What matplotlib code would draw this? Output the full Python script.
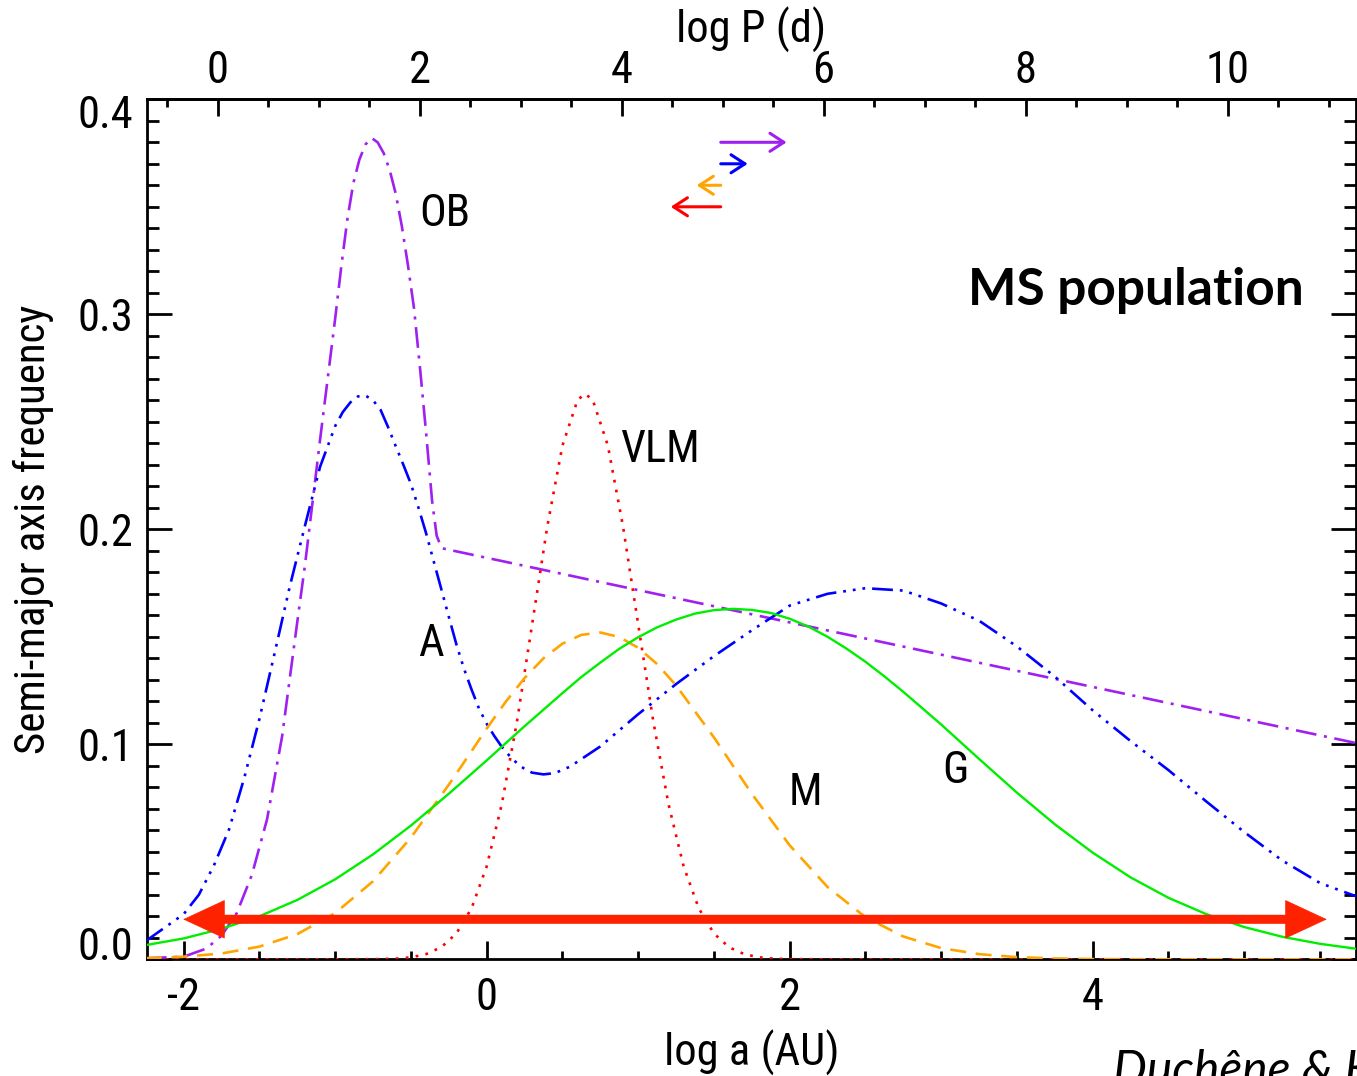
import os
import matplotlib
matplotlib.use("Agg")
import matplotlib.pyplot as plt
from matplotlib import font_manager
from matplotlib.transforms import ScaledTranslation
from matplotlib.ticker import MultipleLocator, FormatStrFormatter


def pick_narrow_font():
    # a narrow sans for the axis text, if one is installed
    wanted = ['liberationsansnarrow-regular', 'robotocondensed-regular',
              'notosans-condensed.', 'dejavusanscondensed.', 'opensans-condensed',
              'opensans_condensed-regular']
    files = {os.path.basename(f.fname).lower(): f for f in font_manager.fontManager.ttflist}
    for w in wanted:
        for name, f in files.items():
            if name.startswith(w):
                return f
    for name, f in files.items():
        if ('narrow' in name or 'condensed' in name) and not any(
                k in name for k in ('bold', 'italic', 'oblique', 'light', 'thin', 'black')):
            return f
    return None


narrow = pick_narrow_font()
if narrow is not None:
    plt.rcParams['font.family'] = [narrow.name, 'DejaVu Sans']
    plt.rcParams['font.stretch'] = narrow.stretch
    BASE = 32
else:
    plt.rcParams['font.family'] = ['Liberation Sans', 'DejaVu Sans']
    BASE = 28
plt.rcParams['font.size'] = BASE
plt.rcParams['axes.unicode_minus'] = False
plt.rcParams['lines.scale_dashes'] = False

# semi-major axis distributions, log a (AU) vs frequency
x_g = [-2.25, -2.0, -1.75, -1.5, -1.25, -1.0, -0.75, -0.5, -0.25, 0.0, 0.25, 0.5, 0.625,
       0.75, 0.875, 1.0, 1.125, 1.25, 1.375, 1.5, 1.625, 1.75, 1.875, 2.0, 2.125, 2.25,
       2.375, 2.5, 2.625, 2.75, 3.0, 3.25, 3.5, 3.75, 4.0, 4.25, 4.5, 4.75, 5.0, 5.25,
       5.5, 5.75]
y_g = [0.0066, 0.0097, 0.0142, 0.0200, 0.0276, 0.0372, 0.0488, 0.0622, 0.0770, 0.0925,
       0.1084, 0.1238, 0.1313, 0.1380, 0.1444, 0.1498, 0.1544, 0.1580, 0.1608, 0.1624,
       0.1630, 0.1625, 0.1611, 0.1584, 0.1547, 0.1500, 0.1445, 0.1384, 0.1316, 0.1244,
       0.1092, 0.0932, 0.0775, 0.0628, 0.0496, 0.0381, 0.0286, 0.0210, 0.0150, 0.0105,
       0.0072, 0.0048]

x_m = [-2.25, -2.0, -1.75, -1.5, -1.25, -1.0, -0.75, -0.5, -0.25, -0.125, 0.0, 0.125,
       0.25, 0.375, 0.5, 0.625, 0.75, 0.875, 1.0, 1.125, 1.25, 1.5, 1.75, 2.0, 2.25, 2.5,
       2.75, 3.0, 3.25, 3.5, 3.75, 4.0, 4.5, 5.0, 5.75]
y_m = [0.0005, 0.0012, 0.0027, 0.0059, 0.0117, 0.0215, 0.0363, 0.0566, 0.0812, 0.0942,
       0.1073, 0.1197, 0.1308, 0.1400, 0.1468, 0.1509, 0.1520, 0.1499, 0.1449, 0.1373,
       0.1274, 0.1032, 0.0770, 0.0530, 0.0336, 0.0196, 0.0106, 0.0052, 0.0024, 0.0010,
       0.0004, 0.0001, 0.0, 0.0, 0.0]

x_vlm = [-2.25, -1.0, -0.7, -0.6, -0.5, -0.4, -0.3, -0.2, -0.1, 0.0, 0.1, 0.2, 0.3, 0.4,
         0.5, 0.6, 0.65, 0.7, 0.8, 0.9, 1.0, 1.1, 1.2, 1.3, 1.4, 1.5, 1.6, 1.7, 1.8, 1.9,
         2.0, 2.3, 5.75]
y_vlm = [0.0, 0.0, 0.0001, 0.0003, 0.0009, 0.0024, 0.0056, 0.0120, 0.0237, 0.0432, 0.0722,
         0.1106, 0.1558, 0.2013, 0.2389, 0.2602, 0.2630, 0.2602, 0.2389, 0.2013, 0.1558,
         0.1106, 0.0722, 0.0432, 0.0237, 0.0120, 0.0056, 0.0024, 0.0009, 0.0003, 0.0001,
         0.0, 0.0]

x_a = [-2.25, -2.0, -1.9, -1.8, -1.7, -1.6, -1.5, -1.4, -1.3, -1.2, -1.1, -1.0, -0.95,
       -0.9, -0.85, -0.8, -0.75, -0.7, -0.65, -0.6, -0.55, -0.5, -0.45, -0.4, -0.35,
       -0.3, -0.25, -0.2, -0.15, -0.1, -0.05, 0.0, 0.05, 0.1, 0.15, 0.2, 0.25, 0.3, 0.375,
       0.45, 0.55, 0.75, 1.0, 1.25, 1.5, 1.75, 2.0, 2.25, 2.5, 2.75, 3.0, 3.25, 3.5, 3.75,
       4.0, 4.25, 4.5, 4.75, 5.0, 5.25, 5.5, 5.75]
y_a = [0.0085, 0.021, 0.030, 0.0437, 0.0605, 0.0844, 0.1118, 0.1423, 0.1733, 0.2015,
       0.229, 0.248, 0.2545, 0.259, 0.2618, 0.2622, 0.260, 0.2555, 0.2474, 0.2386, 0.2300,
       0.2211, 0.2100, 0.1982, 0.1852, 0.1723, 0.1593, 0.1465, 0.1352, 0.1255, 0.1165,
       0.1096, 0.1039, 0.0988, 0.0947, 0.0912, 0.0885, 0.0868, 0.0860, 0.0866, 0.0896,
       0.0990, 0.1140, 0.1280, 0.1410, 0.1530, 0.1645, 0.1700, 0.1726, 0.1715, 0.1655,
       0.1575, 0.1455, 0.1315, 0.1158, 0.1015, 0.0880, 0.0734, 0.0592, 0.0460, 0.0355,
       0.0290]

x_ob = [-2.25, -2.0, -1.85, -1.75, -1.65, -1.55, -1.45, -1.35, -1.25, -1.2, -1.1, -1.0,
        -0.96, -0.92, -0.88, -0.84, -0.8, -0.76, -0.72, -0.68, -0.64, -0.6, -0.56, -0.52,
        -0.48, -0.44, -0.4, -0.36, -0.33, -0.297, 5.75]
y_ob = [0.0005, 0.0012, 0.005, 0.011, 0.0214, 0.0392, 0.065, 0.1038, 0.157, 0.183, 0.2415,
        0.298, 0.322, 0.344, 0.361, 0.372, 0.379, 0.382, 0.380, 0.375, 0.367, 0.356,
        0.341, 0.323, 0.303, 0.275, 0.245, 0.213, 0.197, 0.1912, 0.1004]

# small arrows near the top (OB, A, M, VLM)
arrow_start = 1.545
arrow_ends = [1.980, 1.723, 1.386, 1.215]
arrow_levels = [0.380, 0.370, 0.360, 0.350]
arrow_colors = ['#a020f0', '#0000ff', '#ffa500', '#ff0000']

# full range arrow
span_left, span_right, span_level = -2.003, 5.545, 0.0186

labels = ['OB', 'A', 'VLM', 'M', 'G']
label_x = [-0.275, -0.368, 1.144, 2.101, 3.091]
label_y = [0.3467, 0.1467, 0.2369, 0.0774, 0.0876]

# log P (d) from log a (AU) for a ~1 Msun system
P_SCALE, A_SHIFT = 1.5, 1.776


def a_to_p(a):
    return P_SCALE * (a + A_SHIFT)


def p_to_a(p):
    return p / P_SCALE - A_SHIFT


fig = plt.figure(figsize=(13.57, 10.76), dpi=100)
ax = fig.add_axes([0.10833, 0.10846, 0.89094, 0.79926])

ax.plot(x_ob, y_ob, color='#a020f0', lw=1.9, dashes=(15, 5.5, 2.2, 5.5), zorder=3)
ax.plot(x_a, y_a, color='#0000ff', lw=1.9, dashes=(15, 5, 2, 5, 2, 5, 2, 5), zorder=3)
ax.plot(x_vlm, y_vlm, color='#ff0000', lw=1.9, dashes=(2, 5.2), zorder=3)
ax.plot(x_m, y_m, color='#ffa500', lw=1.9, dashes=(11.5, 7), zorder=3)
ax.plot(x_g, y_g, color='#00ee00', lw=1.7, zorder=3)

for xe, ye, c in zip(arrow_ends, arrow_levels, arrow_colors):
    ax.annotate('', xy=(xe, ye), xytext=(arrow_start, ye),
                arrowprops=dict(arrowstyle='->,head_length=1.0,head_width=0.65',
                                mutation_scale=10, lw=2.2, color=c,
                                shrinkA=0, shrinkB=0))

ax.annotate('', xy=(span_left, span_level), xytext=(span_right, span_level),
            arrowprops=dict(arrowstyle='-', lw=6.5, color='#ff2200',
                            shrinkA=18, shrinkB=18))
ax.annotate('', xy=(span_left, span_level), xytext=(span_right, span_level),
            arrowprops=dict(arrowstyle='<|-|>,head_length=2.9,head_width=1.35',
                            mutation_scale=10, lw=0.5, color='#ff2200',
                            shrinkA=0, shrinkB=0))

for t, lx, ly in zip(labels, label_x, label_y):
    ax.text(lx, ly, t, ha='center', va='center', fontsize=BASE)

ax.text(0.679, 0.7608, 'MS population', transform=ax.transAxes, ha='left',
        va='baseline', fontsize=37, fontweight='bold', fontstretch='normal',
        family=['Lato', 'DejaVu Sans'])
fig.text(1113 / 1357, -0.0085, 'Duchêne & Kraus', ha='left', va='baseline',
         fontsize=34.5, style='italic', fontstretch='normal', family=['Lato', 'DejaVu Sans'])

ax.set_xlim(-2.242, 5.738)
ax.set_ylim(0.0, 0.4)

ax.xaxis.set_major_locator(MultipleLocator(2))
ax.xaxis.set_minor_locator(MultipleLocator(0.5))
ax.yaxis.set_major_locator(MultipleLocator(0.1))
ax.yaxis.set_minor_locator(MultipleLocator(0.01))
ax.yaxis.set_major_formatter(FormatStrFormatter('%.1f'))

ax.tick_params(axis='x', which='major', direction='in', length=13, width=2, pad=13,
               top=False)
ax.tick_params(axis='x', which='minor', direction='in', length=6, width=2, top=False)
ax.tick_params(axis='y', which='major', direction='in', length=18, width=2, pad=10,
               right=True)
ax.tick_params(axis='y', which='minor', direction='in', length=8.5, width=2, right=True)
for s in ax.spines.values():
    s.set_linewidth(2)

secax = ax.secondary_xaxis('top', functions=(a_to_p, p_to_a))
secax.xaxis.set_major_locator(MultipleLocator(2))
secax.xaxis.set_minor_locator(MultipleLocator(0.5))
secax.tick_params(axis='x', which='major', direction='in', length=12, width=2, pad=5)
secax.tick_params(axis='x', which='minor', direction='in', length=6, width=2)
secax.spines['top'].set_linewidth(2)

fig.text(751.5 / 1357, 1 - 30 / 1076, 'log P (d)', ha='center', va='center')
ax.set_xlabel('log a (AU)')
ax.xaxis.set_label_coords(0.5, -0.082)
ax.set_ylabel('Semi-major axis frequency', fontsize=BASE - 1)
ax.yaxis.set_label_coords(-0.077, 0.5)

# nudge the end labels of the y axis inside the frame
fig.canvas.draw()
for tick in ax.yaxis.get_major_ticks():
    loc = tick.get_loc()
    if abs(loc) < 1e-9:
        shift = 16
    elif abs(loc - 0.4) < 1e-9:
        shift = -12
    else:
        continue
    lab = tick.label1
    lab.set_transform(lab.get_transform() + ScaledTranslation(0, shift / 100, fig.dpi_scale_trans))

fig.savefig('out.png', dpi=100)
